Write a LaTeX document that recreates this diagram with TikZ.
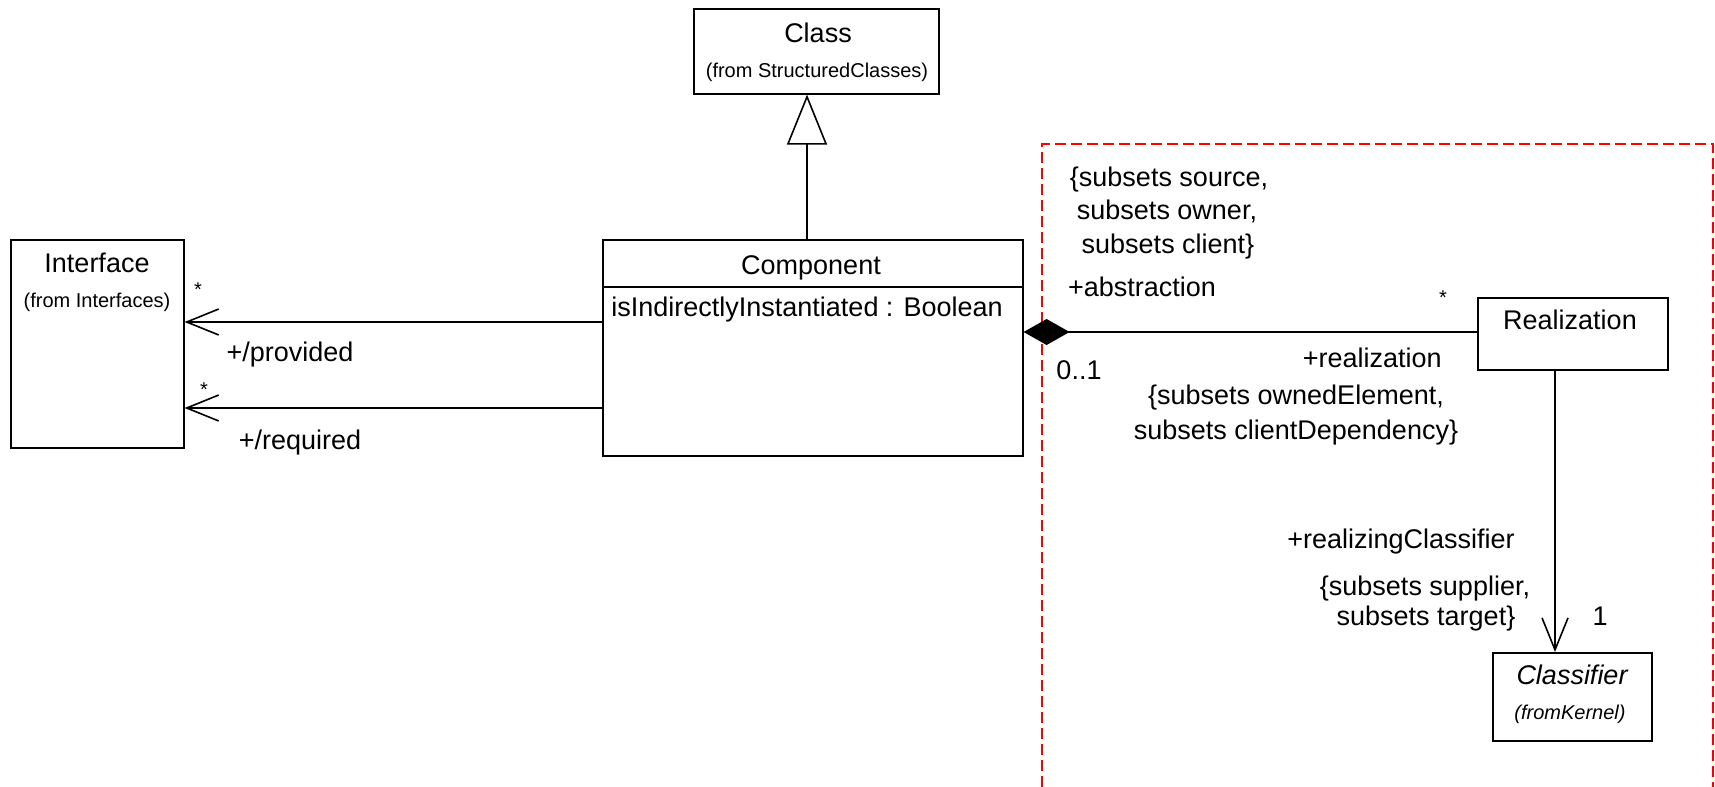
\documentclass[tikz,border=0pt]{standalone}
\usepackage{fontspec}
\setmainfont{Liberation Sans}
\usetikzlibrary{arrows.meta,calc}

\begin{document}
\begin{tikzpicture}[x=0.5pt,y=-0.5pt,
  box/.style={draw, line width=0.8pt, rectangle, inner sep=0pt, anchor=north west},
  lbl/.style={inner sep=0pt, anchor=base, font=\fontsize{13.5}{16}\selectfont},
  small/.style={inner sep=0pt, anchor=base, font=\fontsize{10}{12}\selectfont},
  conn/.style={line width=0.8pt},
  openhead/.style={-{Straight Barb[length=16pt,width=13pt,line width=0.8pt]}},
  genhead/.style={-{Triangle[open,length=25pt,width=20pt,line width=0.8pt,fill=white]}},
  comphead/.style={{Diamond[length=23pt,width=13pt,line width=0.8pt]}-},
  region/.style={draw=red, line width=1pt, dash pattern=on 5.5pt off 2.5pt}
]
\useasboundingbox (0,0) rectangle (1715,787);
\fill[white] (0,0) rectangle (1715,787);

% package boundary
\draw[region] (1042,787) -- (1042,144) -- (1713,144) -- (1713,787);

% classes
\node[box, minimum width=122.5pt, minimum height=42.5pt] (cls) at (693,8) {};
\node[box, minimum width=210pt, minimum height=108pt] (comp) at (602,239) {};
\node[box, minimum width=86.5pt, minimum height=104pt] (iface) at (10,239) {};
\node[box, minimum width=95pt, minimum height=36pt] (real) at (1477,297) {};
\node[box, minimum width=79.5pt, minimum height=44pt] (clsf) at (1492,652) {};

% class names and attributes
\node[lbl] (clsname) at (818,42) {Class};
\node[small] (clsfrom) at (817,77) {(from StructuredClasses)};
\node[lbl] (compname) at (811,274) {Component};
\coordinate (sepy) at (0,287);
\draw[conn] (comp.west |- sepy) -- (comp.east |- sepy);
\node[lbl, anchor=base west] (attr) at (611,316) {isIndirectlyInstantiated : Boolean};
\node[lbl] (ifacename) at (97,272) {Interface};
\node[small] (ifacefrom) at (97,307) {(from Interfaces)};
\node[lbl] (realname) at (1570,329) {Realization};
\node[lbl, font=\fontsize{13.5}{16}\selectfont\itshape] (clsfname) at (1572,684) {Classifier};
\node[small, font=\fontsize{10}{12}\selectfont\itshape] (clsffrom) at (1570,719) {(fromKernel)};

% connector levels
\coordinate (yprov) at (0,322);
\coordinate (yreq) at (0,408);
\coordinate (ycomp) at (0,332);
\coordinate (xgen) at (807,0);
\coordinate (xrc) at (1555,0);

% generalization
\draw[conn, genhead] (comp.north -| xgen) -- (cls.south -| xgen);
% provided / required interfaces
\draw[conn, openhead] (comp.west |- yprov) -- (iface.east |- yprov);
\draw[conn, openhead] (comp.west |- yreq) -- (iface.east |- yreq);
% composition with Realization
\draw[conn, comphead] (comp.east |- ycomp) -- (real.west |- ycomp);
% realizing classifier
\draw[conn, openhead] (real.south -| xrc) -- (clsf.north -| xrc);

% association end labels
\node[small] (pstar) at (198,296) {*};
\node[lbl] (prov) at (290,361) {+/provided};
\node[small] (rstar) at (204,396) {*};
\node[lbl] (req) at (300,449) {+/required};

\node[lbl] (src1) at (1169,186) {\{subsets source,};
\node[lbl] (src2) at (1167,219) {subsets owner,};
\node[lbl] (src3) at (1168,253) {subsets client\}};
\node[lbl] (abstr) at (1142,296) {+abstraction};
\node[small] (astar) at (1443,304) {*};
\node[lbl, anchor=base east] (realrole) at (1442,367) {+realization};
\node[lbl] (zeroone) at (1079,379) {0..1};
\node[lbl] (own1) at (1296,404) {\{subsets ownedElement,};
\node[lbl] (own2) at (1296,439) {subsets clientDependency\}};

\node[lbl] (rc) at (1401,548) {+realizingClassifier};
\node[lbl] (sup1) at (1425,595) {\{subsets supplier,};
\node[lbl] (sup2) at (1426,625) {subsets target\}};
\node[lbl] (one) at (1600,625) {1};
\end{tikzpicture}
\end{document}
